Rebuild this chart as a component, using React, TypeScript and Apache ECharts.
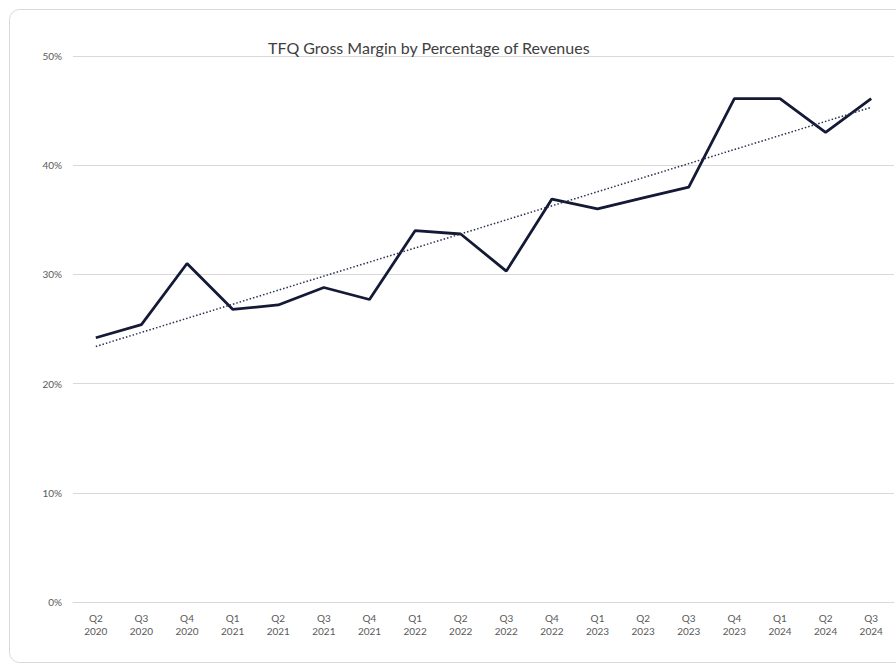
import React, { useEffect, useRef } from "react";
import * as echarts from "echarts";

const titleText = "TFQ Gross Margin by Percentage of Revenues";
const quarters = ["Q2", "Q3", "Q4", "Q1", "Q2", "Q3", "Q4", "Q1", "Q2", "Q3", "Q4", "Q1", "Q2", "Q3", "Q4", "Q1", "Q2", "Q3"];
const years = ["2020", "2020", "2020", "2021", "2021", "2021", "2021", "2022", "2022", "2022", "2022", "2023", "2023", "2023", "2023", "2024", "2024", "2024"];
const grossMargin = [24.2, 25.4, 31.0, 26.8, 27.2, 28.8, 27.7, 34.0, 33.7, 30.3, 36.9, 36.0, 37.0, 38.0, 46.1, 46.1, 43.0, 46.1];
const trendStart = 23.4;
const trendEnd = 45.3;

export default function App() {
  const ref = useRef<HTMLDivElement>(null);
  useEffect(() => {
    if (!ref.current) return;
    const chart = echarts.init(ref.current, undefined, { renderer: "svg" });
    const categories = quarters.map((q, i) => q + "\n" + years[i]);
    const trend = categories.map((_, i) => (i === 0 ? trendStart : i === categories.length - 1 ? trendEnd : null));
    const font = "Lato, 'Open Sans', sans-serif";
    chart.setOption({
      animation: false,
      backgroundColor: "#ffffff",
      textStyle: { fontFamily: font },
      title: {
        text: titleText,
        left: 263,
        top: 34,
        textStyle: { fontFamily: font, fontSize: 16, fontWeight: "normal", color: "#404040" },
      },
      graphic: [
        {
          type: "rect",
          shape: { x: 9.5, y: 9.5, width: 905, height: 653, r: 10 },
          style: { fill: "none", stroke: "#d9d9d9", lineWidth: 1 },
          silent: true,
          z: -10,
        },
      ],
      grid: { left: 73, right: 2, top: 56, bottom: 62, containLabel: false },
      xAxis: {
        type: "category",
        data: categories,
        boundaryGap: true,
        axisLine: { show: true, lineStyle: { color: "#d9d9d9", width: 1 } },
        axisTick: { show: false },
        axisLabel: { color: "#595959", fontSize: 10, lineHeight: 13, margin: 9, fontFamily: font, interval: 0 },
      },
      yAxis: {
        type: "value",
        min: 0,
        max: 50,
        interval: 10,
        axisLine: { show: false },
        axisTick: { show: false },
        axisLabel: { formatter: "{value}%", color: "#595959", fontSize: 10, margin: 11, fontFamily: font },
        splitLine: { lineStyle: { color: "#d9d9d9", width: 1 } },
      },
      series: [
        {
          name: "Gross Margin",
          type: "line",
          data: grossMargin,
          symbol: "none",
          lineStyle: { color: "#141a36", width: 2.8 },
          z: 3,
        },
        {
          name: "Trend",
          type: "line",
          data: trend,
          connectNulls: true,
          symbol: "none",
          lineStyle: { color: "#2b3050", width: 1.5, type: [1.5, 2] },
          z: 4,
        },
      ],
    });
    return () => chart.dispose();
  }, []);
  return (
    <div style={{ position: "fixed", left: 0, top: 0, width: 896, height: 664 }}>
      <div ref={ref} style={{ width: 896, height: 664 }} />
    </div>
  );
}
